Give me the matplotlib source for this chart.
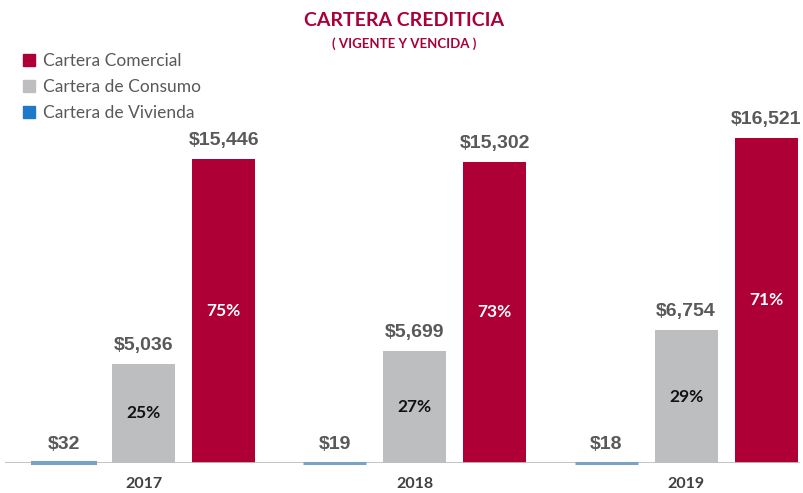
import matplotlib
matplotlib.use("Agg")
import matplotlib.pyplot as plt
import numpy as np
from matplotlib.patches import Patch

years = ["2017", "2018", "2019"]
vivienda = [32, 19, 18]
consumo = [5036, 5699, 6754]
comercial = [15446, 15302, 16521]
pct_consumo = ["25%", "27%", "29%"]
pct_comercial = ["75%", "73%", "71%"]

c_com = "#AE0036"
c_con = "#BDBEC0"
c_viv = "#7AA3C3"
c_viv_leg = "#1F78C8"
c_lab = "#595959"
c_title = "#A8003A"

fig = plt.figure(figsize=(8.04, 4.93), dpi=100)
ax = fig.add_axes([5 / 804, 30 / 493, 795 / 804, 363 / 493])

x = np.arange(len(years))
w = 0.232
step = 0.295

ax.bar(x, consumo, w, color=c_con, zorder=2)
ax.bar(x + step, comercial, w, color=c_com, zorder=2)
ax.axhline(0, color="#BFBFBF", linewidth=2, zorder=3)
# housing bars are tiny; give them a visible edge so they sit on the baseline
ax.bar(x - step, vivienda, w, color=c_viv, edgecolor=c_viv, linewidth=2.2,
       zorder=4, clip_on=False)

ax.set_xlim(-0.511, 2.42)
ax.set_ylim(0, 18445)

lab_font = dict(family="Liberation Sans", fontweight="bold", color=c_lab, fontsize=14)
for i in range(len(years)):
    ax.text(x[i] - step, vivienda[i] + 500, f"${vivienda[i]:,}", ha="center", va="bottom", **lab_font)
    ax.text(x[i], consumo[i] + 500, f"${consumo[i]:,}", ha="center", va="bottom", **lab_font)
    ax.text(x[i] + step, comercial[i] + 500, f"${comercial[i]:,}", ha="center", va="bottom", **lab_font)
    ax.text(x[i], consumo[i] / 2, pct_consumo[i], ha="center", va="center",
            family="Lato", fontweight="bold", fontsize=12.5, color="#111111")
    ax.text(x[i] + step, comercial[i] / 2, pct_comercial[i], ha="center", va="center",
            family="Lato", fontweight="bold", fontsize=12.5, color="white")
    ax.text(x[i], -700, years[i], ha="center", va="top",
            family="Lato", fontweight="bold", fontsize=11.5, color="#404040")

for s in ax.spines.values():
    s.set_visible(False)
ax.set_xticks([])
ax.set_yticks([])

fig.text(404 / 804, 1 - 20 / 493, "CARTERA CREDITICIA", ha="center", va="center",
         family="Lato", fontweight="bold", fontsize=14, color=c_title)
fig.text(404 / 804, 1 - 44 / 493, "( VIGENTE Y VENCIDA )", ha="center", va="center",
         family="Lato", fontweight="bold", fontsize=9.5, color=c_title)

handles = [Patch(color=c_com), Patch(color=c_con), Patch(color=c_viv_leg)]
labels = ["Cartera Comercial", "Cartera de Consumo", "Cartera de Vivienda"]
leg = fig.legend(handles, labels, loc="upper left", bbox_to_anchor=(14 / 804, 1 - 44 / 493),
                 frameon=False, handlelength=0.7, handleheight=0.7, handletextpad=0.45,
                 labelspacing=0.58, prop=dict(family="Lato", size=12.5), borderpad=0)
for t in leg.get_texts():
    t.set_color(c_lab)

fig.savefig("out.png", dpi=100)
